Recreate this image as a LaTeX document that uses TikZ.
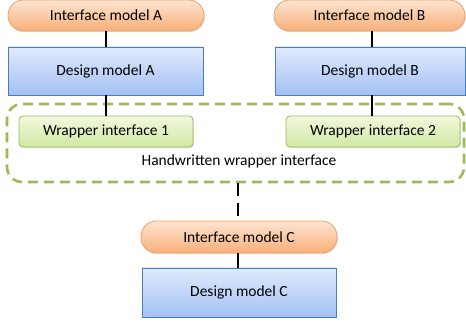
\documentclass[tikz,border=0pt]{standalone}
\usepackage{fontspec}
\setmainfont{Carlito}
\usetikzlibrary{shadows,calc}
\definecolor{orTop}{HTML}{FDE5D2}
\definecolor{orBot}{HTML}{F8AF78}
\definecolor{orLine}{HTML}{F2A061}
\definecolor{blTop}{HTML}{E0EAFC}
\definecolor{blBot}{HTML}{A3C1F4}
\definecolor{blLine}{HTML}{4A7EBB}
\definecolor{grTop}{HTML}{F1F8DE}
\definecolor{grBot}{HTML}{D0E9A2}
\definecolor{grLine}{HTML}{9BBB59}
\tikzset{
  x=1pt, y=-1pt,
  every node/.style={font=\fontsize{15.5}{18}\selectfont, inner sep=0pt},
  ifbox/.style={draw=orLine, line width=0.8pt, top color=orTop, bottom color=orBot,
    rounded corners=15.5pt, minimum height=31pt,
    drop shadow={opacity=0.25, shadow xshift=1pt, shadow yshift=-1.2pt}},
  dmbox/.style={draw=blLine, line width=0.8pt, top color=blTop, bottom color=blBot,
    minimum height=48pt,
    drop shadow={opacity=0.25, shadow xshift=1pt, shadow yshift=-1.2pt}},
  wrbox/.style={draw=grLine, line width=0.8pt, top color=grTop, bottom color=grBot,
    rounded corners=4pt, minimum width=174pt, minimum height=31pt,
    drop shadow={opacity=0.25, shadow xshift=1pt, shadow yshift=-1.2pt}},
  groupbox/.style={draw=grLine, line width=2.6pt, dash pattern=on 10pt off 6pt,
    rounded corners=15pt},
  link/.style={line width=2.6pt, black},
  dlink/.style={line width=2.6pt, black, dash pattern=on 13pt off 7pt},
}
\begin{document}
\begin{tikzpicture}
\useasboundingbox (0,0) rectangle (466,323);
% handwritten wrapper group
\node[groupbox, minimum width=457pt, minimum height=78pt] (grp) at (235.5,143) {};
\node (grplbl) at (239,161.5) {Handwritten wrapper interface};
% column A
\node[ifbox, minimum width=196pt] (ifA) at (106,15.5) {Interface model A};
\node[dmbox, minimum width=195pt] (dmA) at (105.5,71) {Design model A};
\node[wrbox] (wrA) at (106,131.5) {Wrapper interface 1};
% column B
\node[ifbox, minimum width=191pt] (ifB) at (369.5,15.5) {Interface model B};
\node[dmbox, minimum width=190pt] (dmB) at (370,71) {Design model B};
\node[wrbox] (wrB) at (373,131.5) {Wrapper interface 2};
% column C
\node[ifbox, minimum width=196pt, minimum height=32pt] (ifC) at (239,237) {Interface model C};
\node[dmbox, minimum width=194pt, minimum height=49pt] (dmC) at (239,292.5) {Design model C};
% connectors
\draw[link] (ifA.south -| wrA.north) -- (dmA.north -| wrA.north);
\draw[link] (dmA.south -| wrA.north) -- (wrA.north);
\draw[link] (ifB.south -| 372,0) -- (dmB.north -| 372,0);
\draw[link] (dmB.south -| 372,0) -- (wrB.north -| 372,0);
\draw[dlink] (grp.south -| 238,0) -- (ifC.north -| 238,0);
\draw[link] (ifC.south -| 238,0) -- (dmC.north -| 238,0);
\end{tikzpicture}
\end{document}
